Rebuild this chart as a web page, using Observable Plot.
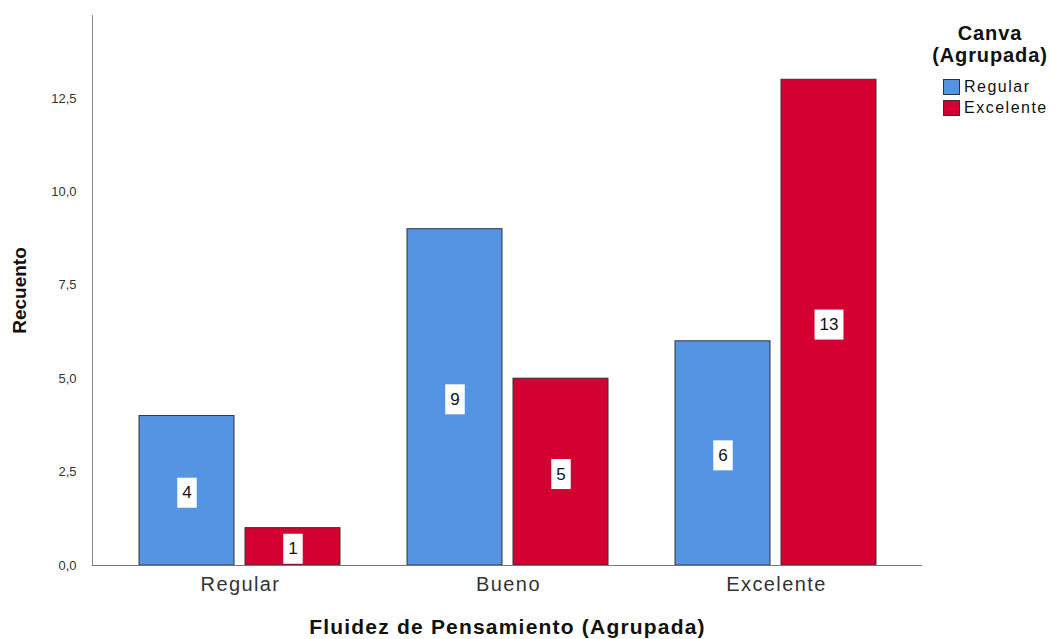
<!DOCTYPE html>
<html><head><meta charset="utf-8">
<script src="https://cdn.jsdelivr.net/npm/d3@7"></script>
<script src="https://cdn.jsdelivr.net/npm/@observablehq/plot@0.6"></script>
<style>
body{margin:0;background:#fff;font-family:"Liberation Sans",Arial,sans-serif;}
#wrap{position:relative;width:1062px;height:639px;overflow:hidden;}
#legend{position:absolute;left:918px;top:22px;color:#111;}
#legend .t{font-weight:bold;font-size:20px;letter-spacing:0.9px;text-align:center;line-height:22px;width:144px;}
#legend .it{display:flex;align-items:center;font-size:16px;letter-spacing:1.5px;height:21px;margin-left:25px;}
#legend .sw{width:17px;height:16px;border:1px solid #333;margin-right:4px;box-sizing:border-box;}
g[aria-label="x-axis label"] text{font-weight:bold;font-size:21px;letter-spacing:1.2px;fill:#111;}
g[aria-label="y-axis label"] text{font-weight:bold;font-size:19px;fill:#111;}
g[aria-label="x-axis tick label"] text{letter-spacing:1.4px;}
</style></head><body>
<div id="wrap"><div id="chart"></div><div id="legend"></div></div>
<script>
const groups = ["Regular", "Bueno", "Excelente"];
const series = ["Regular", "Excelente"];
const regularCounts = [4, 9, 6];
const excelenteCounts = [1, 5, 13];
const yTicks = [0, 2.5, 5, 7.5, 10, 12.5];
const colors = ["#5593e3", "#d50032"];

const data = groups.flatMap((g, i) => [
  {group: g, series: series[0], value: regularCounts[i]},
  {group: g, series: series[1], value: excelenteCounts[i]}
]);
const blue = data.filter(d => d.series === series[0]);
const red = data.filter(d => d.series === series[1]);

const plot = Plot.plot({
  width: 1062,
  height: 639,
  marginLeft: 92,
  marginRight: 140,
  marginTop: 15,
  marginBottom: 74,
  style: {fontFamily: '"Liberation Sans", Arial, sans-serif', background: "#fff"},
  x: {domain: groups, range: [106, 910], padding: 0},
  y: {domain: [0, 14.72]},
  marks: [
    Plot.barY(blue, {x: "group", y: "value", fill: colors[0], stroke: "#333", strokeWidth: 1, insetLeft: 33, insetRight: 140}),
    Plot.barY(red, {x: "group", y: "value", fill: colors[1], stroke: "#333", strokeWidth: 1, insetLeft: 139, insetRight: 34}),
    Plot.text(blue, {x: "group", y: d => d.value / 2, text: d => String(d.value), dx: -53.5, dy: 2, fontSize: 17, fill: "#111", className: "barlabel"}),
    Plot.text(red, {x: "group", y: d => d.value / 2, text: d => String(d.value), dx: 52.5, dy: 2, fontSize: 17, fill: "#111", className: "barlabel"}),
    Plot.frame({anchor: "left", stroke: "#888"}),
    Plot.ruleY([0], {stroke: "#777"}),
    Plot.axisY({ticks: yTicks, tickSize: 0, tickPadding: 16, fontSize: 13, fill: "#333",
      tickFormat: d => d.toFixed(1).replace(".", ","),
      label: "Recuento", labelAnchor: "center", labelArrow: "none", labelOffset: 80}),
    Plot.axisX({tickSize: 0, tickPadding: 11, fontSize: 20, fill: "#333",
      label: "Fluidez de Pensamiento (Agrupada)", labelAnchor: "center", labelArrow: "none", labelOffset: 68})
  ]
});
document.getElementById("chart").appendChild(plot);

d3.selectAll(".barlabel text").each(function() {
  const b = this.getBBox();
  const padX = 5, boxH = 30;
  const cy = b.y + b.height / 2;
  const r = document.createElementNS("http://www.w3.org/2000/svg", "rect");
  r.setAttribute("x", b.x - padX);
  r.setAttribute("y", cy - boxH / 2);
  r.setAttribute("width", b.width + 2 * padX);
  r.setAttribute("height", boxH);
  r.setAttribute("fill", "#fff");
  const t = this.getAttribute("transform");
  if (t) r.setAttribute("transform", t);
  this.parentNode.insertBefore(r, this);
});

const lg = d3.select("#legend");
lg.append("div").attr("class", "t").html("Canva<br>(Agrupada)");
series.forEach((s, i) => {
  const it = lg.append("div").attr("class", "it");
  it.append("div").attr("class", "sw").style("background", colors[i]);
  it.append("span").text(s);
});
lg.select(".it").style("margin-top", "10px");
</script>
</body></html>
